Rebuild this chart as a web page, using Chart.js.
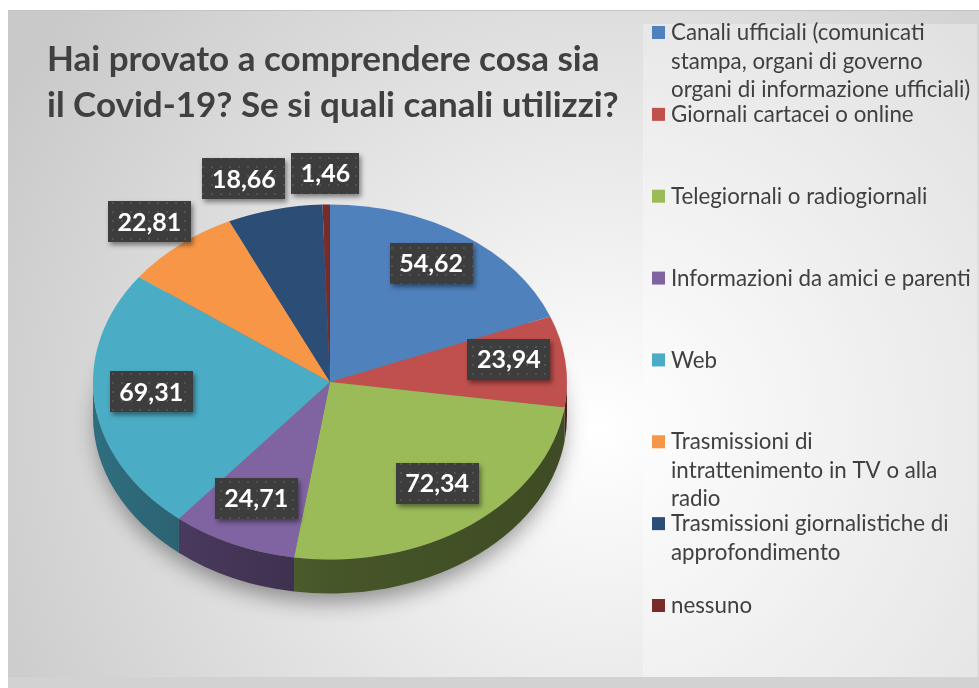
<!DOCTYPE html>
<html>
<head>
<meta charset="utf-8">
<script src="https://cdn.jsdelivr.net/npm/chart.js@4"></script>
<style>
  body { margin: 0; background: #fff; }
  canvas { display: block; }
</style>
</head>
<body>
<canvas id="pieChart" width="979" height="688"></canvas>
<script>
// Data
const titleLines = ["Hai provato a comprendere cosa sia", "il Covid-19? Se si quali canali utilizzi?"];
const categories = [
    ["Canali ufficiali (comunicati", "stampa, organi di governo", "organi di informazione ufficiali)"],
    ["Giornali cartacei o online"],
    ["Telegiornali o radiogiornali"],
    ["Informazioni da amici e parenti"],
    ["Web"],
    ["Trasmissioni di", "intrattenimento in TV o alla", "radio"],
    ["Trasmissioni giornalistiche di", "approfondimento"],
    ["nessuno"]
];
const values = [54.62, 23.94, 72.34, 24.71, 69.31, 22.81, 18.66, 1.46];
const colors = ["#4f81bd", "#c0504d", "#9bbb59", "#8064a2", "#4bacc6", "#f79646", "#2c4d75", "#772c2a"];

const TILT = 0.749;   // vertical squash of the pie
const DEPTH = 34;     // thickness of the 3D side

function shade(hex, f) {
    const n = parseInt(hex.slice(1), 16);
    const r = Math.round(((n >> 16) & 255) * f);
    const g = Math.round(((n >> 8) & 255) * f);
    const b = Math.round((n & 255) * f);
    return "rgb(" + r + "," + g + "," + b + ")";
}

// dotted dark fill for the value boxes
const patCanvas = document.createElement("canvas");
patCanvas.width = 9;
patCanvas.height = 9;
const pctx = patCanvas.getContext("2d");
pctx.fillStyle = "#3d3d3d";
pctx.fillRect(0, 0, 9, 9);
pctx.fillStyle = "#525252";
pctx.fillRect(4, 4, 2, 2);

const pie3d = {
    id: "pie3d",
    beforeDraw(chart) {
        const ctx = chart.ctx;
        ctx.save();
        ctx.fillStyle = "#fff";
        ctx.fillRect(0, 0, chart.width, chart.height);
        const bg = ctx.createRadialGradient(600, 430, 0, 600, 430, 680);
        bg.addColorStop(0, "#ffffff");
        bg.addColorStop(1, "#c9c9c9");
        ctx.fillStyle = bg;
        ctx.fillRect(8, 10, 971, 678);
        // legend panel, slightly lighter
        ctx.fillStyle = "rgba(255,255,255,0.3)";
        ctx.fillRect(643, 24, 334, 653);
        // bottom strip
        ctx.fillStyle = "#d2d2d2";
        ctx.fillRect(8, 677, 971, 11);
        ctx.fillStyle = "#c4c4c4";
        ctx.fillRect(8, 10, 971, 1);
        ctx.restore();
    },
    beforeDatasetsDraw(chart) {
        const ctx = chart.ctx;
        const arcs = chart.getDatasetMeta(0).data;
        const cx = arcs[0].x, cy = arcs[0].y, r = arcs[0].outerRadius, ry = r * TILT;

        // soft shadow under the pie
        ctx.save();
        ctx.shadowColor = "rgba(0,0,0,0.4)";
        ctx.shadowBlur = 22;
        ctx.shadowOffsetY = 10;
        ctx.fillStyle = "#777";
        ctx.beginPath();
        ctx.ellipse(cx, cy + DEPTH, r - 4, ry - 2, 0, 0, Math.PI * 2);
        ctx.fill();
        ctx.restore();

        // side walls (front half only)
        arcs.forEach((arc, i) => {
            const b0 = Math.max(arc.startAngle, 0);
            const b1 = Math.min(arc.endAngle, Math.PI);
            if (b1 <= b0) return;
            const grad = ctx.createLinearGradient(cx - r, 0, cx + r, 0);
            grad.addColorStop(0, shade(colors[i], 0.64));
            grad.addColorStop(0.5, shade(colors[i], 0.46));
            grad.addColorStop(1, shade(colors[i], 0.4));
            ctx.beginPath();
            ctx.ellipse(cx, cy, r, ry, 0, b0, b1);
            ctx.ellipse(cx, cy + DEPTH, r, ry, 0, b1, b0, true);
            ctx.closePath();
            ctx.fillStyle = grad;
            ctx.fill();
        });

        // squash the library's pie into an ellipse
        ctx.save();
        ctx.translate(cx, cy);
        ctx.scale(1, TILT);
        ctx.translate(-cx, -cy);
    },
    afterDatasetsDraw(chart) {
        const ctx = chart.ctx;
        ctx.restore();

        const arcs = chart.getDatasetMeta(0).data;
        const total = values.reduce((a, b) => a + b, 0);
        const cx = arcs[0].x, cy = arcs[0].y, r = arcs[0].outerRadius, ry = r * TILT;

        ctx.save();
        ctx.font = "bold 25px Lato";
        const boxes = arcs.map((arc, i) => {
            const mid = (arc.startAngle + arc.endAngle) / 2;
            const inside = values[i] / total >= 0.08;
            const k = inside ? 0.76 : 1.2;
            const text = values[i].toFixed(2).replace(".", ",");
            const w = ctx.measureText(text).width + 19;
            return {
                text: text, w: w, h: 41, inside: inside,
                x: cx + r * k * Math.cos(mid),
                y: cy + ry * k * Math.sin(mid) - (inside ? 7 : -4)
            };
        });

        // push outside labels apart (right to left)
        const placed = [];
        for (let i = boxes.length - 1; i >= 0; i--) {
            const b = boxes[i];
            if (b.inside) continue;
            placed.forEach(p => {
                const overlapY = Math.abs(p.y - b.y) < (p.h + b.h) / 2;
                const overlapX = (b.x + b.w / 2) > (p.x - p.w / 2 - 6) && (b.x - b.w / 2) < (p.x + p.w / 2);
                if (overlapY && overlapX) b.x = p.x - p.w / 2 - 6 - b.w / 2;
            });
            placed.push(b);
        }

        const pattern = ctx.createPattern(patCanvas, "repeat");
        boxes.forEach(b => {
            ctx.save();
            ctx.shadowColor = "rgba(0,0,0,0.45)";
            ctx.shadowBlur = 5;
            ctx.shadowOffsetX = 2;
            ctx.shadowOffsetY = 3;
            ctx.fillStyle = pattern;
            ctx.fillRect(Math.round(b.x - b.w / 2), Math.round(b.y - b.h / 2), Math.round(b.w), b.h);
            ctx.restore();
            ctx.fillStyle = "#ffffff";
            ctx.textAlign = "center";
            ctx.textBaseline = "middle";
            ctx.fillText(b.text, b.x, b.y + 1);
        });
        ctx.restore();
    },
    afterDraw(chart) {
        const ctx = chart.ctx;
        ctx.save();
        // title
        ctx.fillStyle = "#404040";
        ctx.font = "bold 35px Lato";
        ctx.textAlign = "left";
        ctx.textBaseline = "alphabetic";
        titleLines.forEach((line, i) => ctx.fillText(line, 47, 71 + i * 46));

        // legend
        const top = 33, step = (606 - 33) / 7, lineH = 28.5;
        ctx.font = "22.3px Lato";
        ctx.textBaseline = "middle";
        categories.forEach((lines, i) => {
            const y = top + i * step;
            ctx.fillStyle = colors[i];
            ctx.fillRect(652, y - 7, 13, 13);
            ctx.fillStyle = "#404040";
            lines.forEach((txt, j) => ctx.fillText(txt, 671, y + j * lineH));
        });
        ctx.restore();
    }
};

new Chart(document.getElementById("pieChart"), {
    type: "pie",
    data: {
        labels: categories,
        datasets: [{
            data: values,
            backgroundColor: colors,
            borderWidth: 0,
            clip: false
        }]
    },
    options: {
        responsive: false,
        animation: false,
        layout: {
            padding: { left: 93, right: 412, top: 145, bottom: 69 }
        },
        plugins: {
            legend: { display: false },
            title: { display: false },
            tooltip: { enabled: false }
        }
    },
    plugins: [pie3d]
});
</script>
</body>
</html>
